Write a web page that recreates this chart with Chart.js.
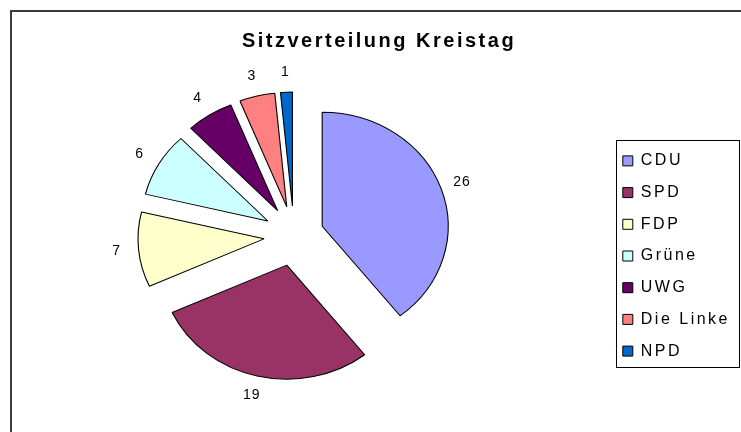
<!DOCTYPE html>
<html><head><meta charset="utf-8">
<script src="https://cdn.jsdelivr.net/npm/chart.js@4"></script>
<style>
html,body{margin:0;padding:0;background:#fff;overflow:hidden;}
#wrap{position:relative;width:741px;height:432px;overflow:hidden;}
#frame{position:absolute;left:10px;top:10px;width:800px;height:500px;border-left:2px solid #3c3c3c;border-top:2px solid #3c3c3c;}
canvas{position:absolute;left:0;top:0;}
</style></head><body>
<div id="wrap"><div id="frame"></div><canvas id="c" width="741" height="432"></canvas></div>
<script>
// ---- data ----
const categories = ['CDU', 'SPD', 'FDP', 'Grüne', 'UWG', 'Die Linke', 'NPD'];
const seats = [26, 19, 7, 6, 4, 3, 1];
const colors = ['#9999FF', '#993366', '#FFFFCC', '#CCFFFF', '#660066', '#FF8080', '#0066CC'];
const titleText = 'Sitzverteilung Kreistag';

// ---- layout / style ----
const PIE = { radius: 114, scaleX: 1.105, explode: 30, shiftX: -18.7, shiftY: -20, labelGap: 20 };
const FONT = '"Liberation Sans", Arial, sans-serif';
const SPACING = '2.5px';

function pieCenter(chart) {
  const a = chart.chartArea;
  return { cx: (a.left + a.right) / 2 + PIE.shiftX, cy: (a.top + a.bottom) / 2 + PIE.shiftY };
}

const excelPie = {
  id: 'excelPie',
  beforeLayout(chart) { chart.ctx.letterSpacing = SPACING; },
  beforeDraw(chart) { chart.ctx.letterSpacing = SPACING; },
  afterDatasetUpdate(chart, args) {
    const { cx, cy } = pieCenter(chart);
    args.meta.data.forEach(arc => {
      const mid = (arc.startAngle + arc.endAngle) / 2;
      arc.x = cx + PIE.explode * Math.cos(mid) / PIE.scaleX;
      arc.y = cy + PIE.explode * Math.sin(mid);
    });
  },
  beforeDatasetsDraw(chart) {
    const ctx = chart.ctx;
    const { cx } = pieCenter(chart);
    ctx.save();
    ctx.letterSpacing = '0px';
    ctx.translate(cx, 0);
    ctx.scale(PIE.scaleX, 1);
    ctx.translate(-cx, 0);
  },
  afterDatasetsDraw(chart) {
    const ctx = chart.ctx;
    ctx.restore();
    const { cx } = pieCenter(chart);
    const meta = chart.getDatasetMeta(0);
    const values = chart.data.datasets[0].data;
    ctx.save();
    ctx.letterSpacing = '1px';
    ctx.font = '14px ' + FONT;
    ctx.fillStyle = '#000';
    ctx.textAlign = 'center';
    ctx.textBaseline = 'middle';
    meta.data.forEach((arc, i) => {
      const mid = (arc.startAngle + arc.endAngle) / 2;
      const r = arc.outerRadius + PIE.labelGap;
      const x = cx + (arc.x - cx + r * Math.cos(mid)) * PIE.scaleX;
      const y = arc.y + r * Math.sin(mid);
      ctx.fillText(String(values[i]), x, y);
    });
    ctx.restore();
  },
  afterDraw(chart) {
    const ctx = chart.ctx;
    const hb = chart.legend.legendHitBoxes;
    if (!hb || !hb.length) return;
    const first = hb[0], last = hb[hb.length - 1];
    const left = Math.round(first.left - 7) + 0.5;
    const top = Math.round(first.top - 13) + 0.5;
    const bottom = Math.round(last.top + last.height + 8) + 0.5;
    const right = chart.width - 1.5;
    ctx.save();
    ctx.strokeStyle = '#000';
    ctx.lineWidth = 1;
    ctx.strokeRect(left, top, right - left, bottom - top);
    ctx.restore();
  }
};

new Chart(document.getElementById('c'), {
  type: 'pie',
  data: {
    labels: categories,
    datasets: [{
      data: seats,
      backgroundColor: colors,
      borderColor: '#000',
      borderWidth: 1,
      radius: PIE.radius
    }]
  },
  options: {
    responsive: false,
    devicePixelRatio: 1,
    animation: false,
    events: [],
    layout: { padding: { left: 18, right: 1, top: 0, bottom: 3 } },
    plugins: {
      title: {
        display: true,
        text: titleText,
        color: '#000',
        font: { family: FONT, size: 20, weight: 'bold', lineHeight: 1.2 },
        padding: { top: 29, bottom: 30 }
      },
      legend: {
        position: 'right',
        fullSize: false,
        align: 'center',
        labels: {
          color: '#000',
          font: { family: FONT, size: 16 },
          boxWidth: 10,
          boxHeight: 10,
          padding: 15.7
        }
      },
      tooltip: { enabled: false }
    }
  },
  plugins: [excelPie]
});
</script>
</body></html>
